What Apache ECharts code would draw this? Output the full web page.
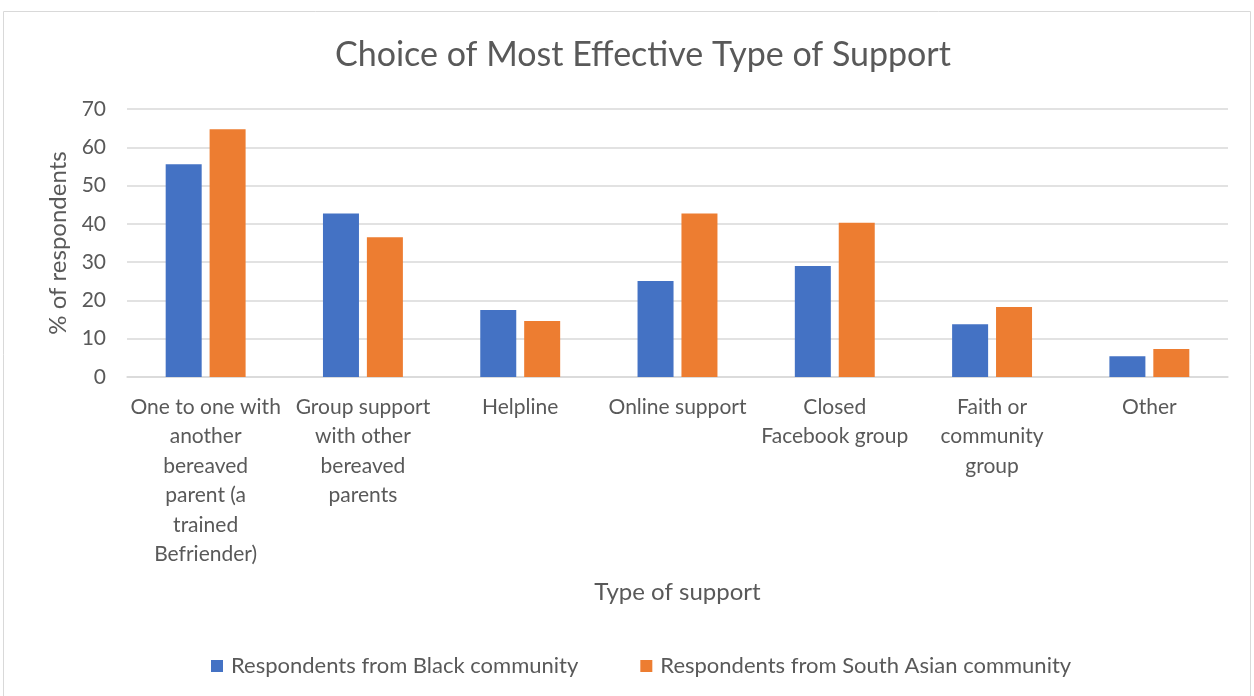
<!DOCTYPE html>
<html>
<head>
    <meta charset="UTF-8">
    <script src="https://cdn.jsdelivr.net/npm/echarts@6/dist/echarts.min.js"></script>
    <style>
        html, body { margin: 0; padding: 0; background: #fff; }
        #barChart { width: 1254px; height: 696px; }
    </style>
</head>
<body>
    <div id="barChart"></div>
    <script type="text/javascript">
        // categories (line breaks as wrapped in the original)
        var supportTypes = [
            'One to one with\nanother\nbereaved\nparent (a\ntrained\nBefriender)',
            'Group support\nwith other\nbereaved\nparents',
            'Helpline',
            'Online support',
            'Closed\nFacebook group',
            'Faith or\ncommunity\ngroup',
            'Other'
        ];
        var blackCommunity = [55.6, 42.7, 17.5, 25.1, 29.0, 13.8, 5.4];
        var southAsianCommunity = [64.7, 36.5, 14.6, 42.7, 40.3, 18.3, 7.3];
        var seriesNames = ['Respondents from Black community', 'Respondents from South Asian community'];

        var txtColor = '#595959';
        var fontName = 'Lato, "Open Sans", sans-serif';

        var myChart = echarts.init(document.getElementById('barChart'));
        var option = {
            animation: false,
            textStyle: { fontFamily: fontName, color: txtColor },
            graphic: [{
                type: 'rect',
                shape: { x: 3.5, y: 11.5, width: 1247, height: 690 },
                style: { fill: 'none', stroke: '#d9d9d9', lineWidth: 1 },
                silent: true
            }],
            title: {
                text: 'Choice of Most Effective Type of Support',
                left: 330,
                top: 33,
                textStyle: { fontFamily: fontName, fontSize: 34, fontWeight: 'normal', color: txtColor }
            },
            legend: {
                data: seriesNames,
                top: 650,
                left: 206,
                itemWidth: 12,
                itemHeight: 12,
                itemGap: 62,
                icon: 'rect',
                textStyle: { fontFamily: fontName, fontSize: 22, color: txtColor, padding: [0, 0, 0, 3] }
            },
            grid: { left: 127, right: 26, top: 109, bottom: 319, containLabel: false },
            xAxis: {
                type: 'category',
                data: supportTypes,
                name: 'Type of support',
                nameLocation: 'middle',
                nameGap: 203,
                nameTextStyle: { fontFamily: fontName, fontSize: 24, color: txtColor },
                axisLine: { lineStyle: { color: '#d9d9d9', width: 1.5 } },
                axisTick: { show: false },
                axisLabel: {
                    interval: 0,
                    margin: 15,
                    fontFamily: fontName,
                    fontSize: 21,
                    lineHeight: 29.5,
                    color: txtColor,
                    verticalAlign: 'top'
                }
            },
            yAxis: {
                type: 'value',
                min: 0,
                max: 70,
                interval: 10,
                name: '% of respondents',
                nameLocation: 'middle',
                nameGap: 54,
                nameTextStyle: { fontFamily: fontName, fontSize: 24, color: txtColor },
                axisLine: { show: false },
                axisTick: { show: false },
                axisLabel: { fontFamily: fontName, fontSize: 21, color: txtColor, margin: 21 },
                splitLine: { lineStyle: { color: '#d9d9d9', width: 1.5 } }
            },
            series: [
                {
                    name: seriesNames[0],
                    type: 'bar',
                    data: blackCommunity,
                    barWidth: 36,
                    barGap: '22%',
                    itemStyle: { color: '#4472c4' }
                },
                {
                    name: seriesNames[1],
                    type: 'bar',
                    data: southAsianCommunity,
                    barWidth: 36,
                    barGap: '22%',
                    itemStyle: { color: '#ed7d31' }
                }
            ]
        };
        myChart.setOption(option);
    </script>
</body>
</html>
